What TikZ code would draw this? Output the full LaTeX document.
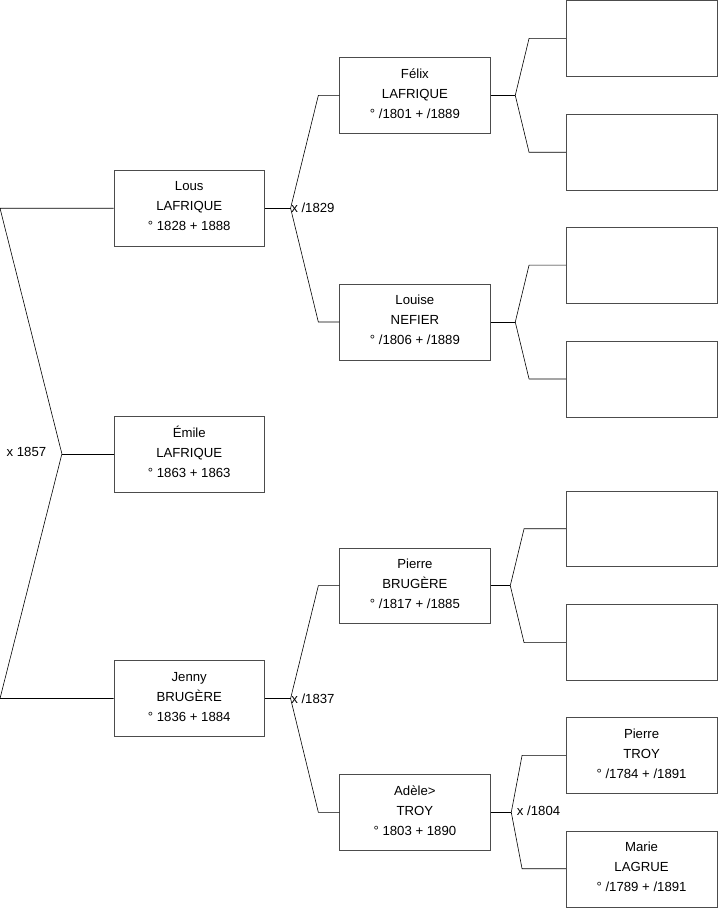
\documentclass[tikz,border=0pt]{standalone}
\usepackage{fontspec}
\setmainfont{Liberation Sans}
\usetikzlibrary{positioning, calc}
\tikzset{
  personbox/.style={draw=black!70, rectangle, minimum width=151pt, minimum height=76pt,
    align=center, inner sep=0pt, text depth=4pt, font=\fontsize{13.2}{20}\selectfont},
  link/.style={draw=black, line width=0.6pt},
  wedding/.style={font=\fontsize{13.2}{15}\selectfont, inner sep=0.5pt},
}

\begin{document}
\begin{tikzpicture}[x=1pt, y=-1pt]
  \useasboundingbox (0,-0.5) rectangle (719.5,908.8);

  % generation 1
  \node[personbox] (lous)  at (189.5,208) {Lous\\LAFRIQUE\\° 1828 + 1888};
  \node[personbox] (emile) at (189.5,454) {Émile\\LAFRIQUE\\° 1863 + 1863};
  \node[personbox] (jenny) at (189.5,699) {Jenny\\BRUGÈRE\\° 1836 + 1884};

  % generation 2
  \node[personbox] (felix)  at (415.5,95)  {Félix\\LAFRIQUE\\° /1801 + /1889};
  \node[personbox] (louise) at (415.5,322) {Louise\\NEFIER\\° /1806 + /1889};
  \node[personbox] (pierre) at (415.5,586) {Pierre\\BRUGÈRE\\° /1817 + /1885};
  \node[personbox] (adele)  at (415.5,813) {Adèle>\\TROY\\° 1803 + 1890};

  % generation 3
  \node[personbox] (felixF)  at (642.5,38)  {};
  \node[personbox] (felixM)  at (642.5,152) {};
  \node[personbox] (louiseF) at (642.5,265) {};
  \node[personbox] (louiseM) at (642.5,379) {};
  \node[personbox] (pierreF) at (642.5,529) {};
  \node[personbox] (pierreM) at (642.5,643) {};
  \node[personbox] (troy)    at (642.5,756) {Pierre\\TROY\\° /1784 + /1891};
  \node[personbox] (lagrue)  at (642.5,869.5) {Marie\\LAGRUE\\° /1789 + /1891};

  % forks
  \coordinate (edge) at (0,0);
  \coordinate (fam0) at (62,454);
  \coordinate (fam1) at (291,208);
  \coordinate (fam2) at (291,699);
  \coordinate (fam3) at (516,95);
  \coordinate (fam4) at (516,322);
  \coordinate (fam5) at (511,586);
  \coordinate (fam6) at (512,813);

  \draw[link] (lous.west) -- (edge |- lous.west) -- (fam0) -- (edge |- jenny.west) -- (jenny.west);
  \draw[link] (fam0) -- (emile.west);
  \node[wedding, anchor=east] at ($(fam0)+(-15,-2)$) {x 1857};

  \draw[link] (lous.east) -- (fam1);
  \draw[link] (felix.west) -- ++(-21,0) -- (fam1) -- ($(louise.west)+(-21,0)$) -- (louise.west);
  \node[wedding, anchor=west] at (fam1) {x /1829};

  \draw[link] (jenny.east) -- (fam2);
  \draw[link] (pierre.west) -- ++(-21,0) -- (fam2) -- ($(adele.west)+(-21,0)$) -- (adele.west);
  \node[wedding, anchor=west] at (fam2) {x /1837};

  \draw[link] (felix.east) -- (fam3);
  \draw[link] (felixF.west) -- ++(-37,0) -- (fam3) -- ($(felixM.west)+(-37,0)$) -- (felixM.west);

  \draw[link] (louise.east) -- (fam4);
  \draw[link] (louiseF.west) -- ++(-37,0) -- (fam4) -- ($(louiseM.west)+(-37,0)$) -- (louiseM.west);

  \draw[link] (pierre.east) -- (fam5);
  \draw[link] (pierreF.west) -- ++(-42,0) -- (fam5) -- ($(pierreM.west)+(-42,0)$) -- (pierreM.west);

  \draw[link] (adele.east) -- (fam6);
  \draw[link] (troy.west) -- ++(-44,0) -- (fam6) -- ($(lagrue.west)+(-44,0)$) -- (lagrue.west);
  \node[wedding, anchor=west] at ($(fam6)+(5,-2)$) {x /1804};
\end{tikzpicture}
\end{document}
